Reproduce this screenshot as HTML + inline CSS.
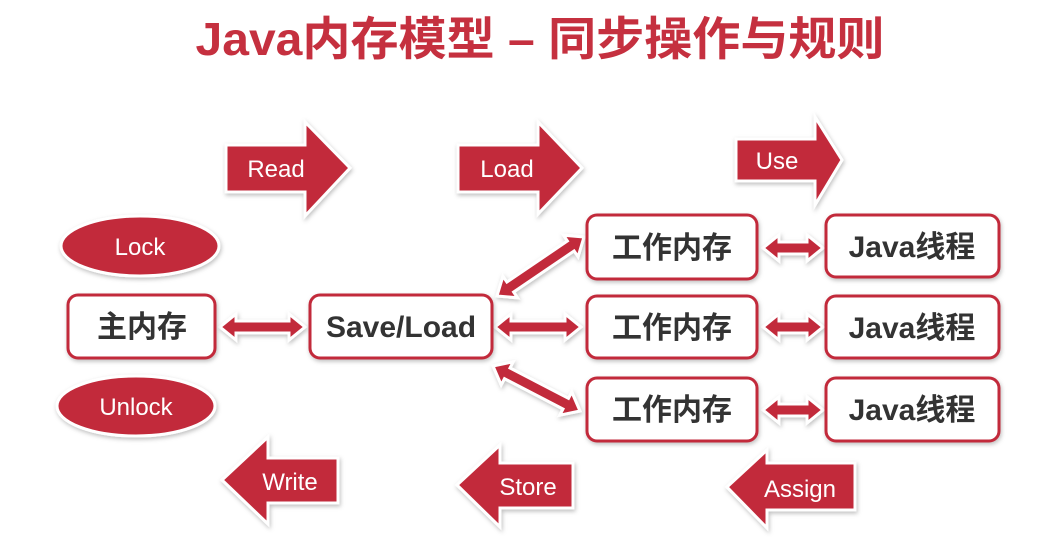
<!DOCTYPE html>
<html><head><meta charset="utf-8"><style>
html,body{margin:0;padding:0;background:#fff;width:1039px;height:540px;overflow:hidden}
svg{display:block}
.t{font-family:"Liberation Sans","Noto Sans CJK SC",sans-serif}
</style></head><body>
<svg id="s" width="1039" height="540" viewBox="0 0 1039 540" xmlns="http://www.w3.org/2000/svg">
<defs><filter id="sh" x="-20%" y="-20%" width="140%" height="140%"><feDropShadow dx="1" dy="2" stdDeviation="2" flood-color="#000" flood-opacity="0.25"/></filter></defs>
<text class="t" x="540" y="55" text-anchor="middle" font-size="46" font-weight="bold" fill="#c5303f" textLength="689" lengthAdjust="spacingAndGlyphs">Java内存模型 – 同步操作与规则</text>

<g fill="#c22a3b" stroke="#fff" stroke-width="3" filter="url(#sh)" stroke-linejoin="miter">
<polygon points="226,145 305,145 305,122 350,168 305,216 305,192 226,192"/>
<polygon points="458,145 538,145 538,122 582,168 538,214 538,192 458,192"/>
<polygon points="736,139 815,139 815,117 842,160 815,205 815,181 736,181"/>
<polygon points="222,480 268,437 268,458 338,458 338,503 268,503 268,524"/>
<polygon points="457,485 500,445 500,463 573,463 573,508 500,508 500,527"/>
<polygon points="727,487 767,450 767,463 855,463 855,510 767,510 767,528"/>
<ellipse cx="140" cy="246" rx="79" ry="30"/>
<ellipse cx="136" cy="406" rx="79" ry="30"/>
</g>
<g id="da" fill="#c22a3b" stroke="#fff" stroke-width="3" filter="url(#sh)"></g>

<g fill="#fff" stroke="#c22a3b" stroke-width="3" filter="url(#sh)">
<rect x="68" y="295" width="147" height="63" rx="10"/>
<rect x="310" y="295" width="182" height="63" rx="10"/>
<rect x="587" y="215" width="170" height="64" rx="10"/>
<rect x="587" y="296" width="170" height="62" rx="10"/>
<rect x="587" y="378" width="170" height="63" rx="10"/>
<rect x="826" y="215" width="173" height="62" rx="10"/>
<rect x="826" y="296" width="173" height="62" rx="10"/>
<rect x="826" y="378" width="173" height="63" rx="10"/>
</g>

<g class="t" fill="#fff" font-size="24" text-anchor="middle">
<text x="276" y="177">Read</text>
<text x="507" y="177">Load</text>
<text x="777" y="169">Use</text>
<text x="290" y="490">Write</text>
<text x="528" y="495">Store</text>
<text x="800" y="497">Assign</text>
<text x="140" y="255">Lock</text>
<text x="136" y="415">Unlock</text>
</g>
<g class="t" fill="#333" font-size="30" font-weight="bold" text-anchor="middle">
<text x="142" y="337">主内存</text>
<text x="401" y="337">Save/Load</text>
<text x="672" y="258">工作内存</text>
<text x="672" y="338">工作内存</text>
<text x="672" y="420">工作内存</text>
<text x="912" y="257">Java线程</text>
<text x="912" y="338">Java线程</text>
<text x="912" y="420">Java线程</text>
</g>
</svg>
<script>
function da(x1,y1,x2,y2){
 var dx=x2-x1,dy=y2-y1,L=Math.hypot(dx,dy),ux=dx/L,uy=dy/L,nx=-uy,ny=ux;
 var h=16,w=6,hw=13,p=[];
 function P(a,b){p.push((x1+ux*a+nx*b).toFixed(1)+","+(y1+uy*a+ny*b).toFixed(1));}
 P(0,0);P(h,hw);P(h,w);P(L-h,w);P(L-h,hw);P(L,0);P(L-h,-hw);P(L-h,-w);P(h,-w);P(h,-hw);
 var g=document.getElementById('da');
 var e=document.createElementNS('http://www.w3.org/2000/svg','polygon');
 e.setAttribute('points',p.join(' '));g.appendChild(e);
}
da(220,327,305,327);
da(495,327,581,327);
da(497,296,584,237);
da(493,366,580,411);
da(763,248,823,248);
da(763,327,823,327);
da(763,410,823,410);
</script>
</body></html>
